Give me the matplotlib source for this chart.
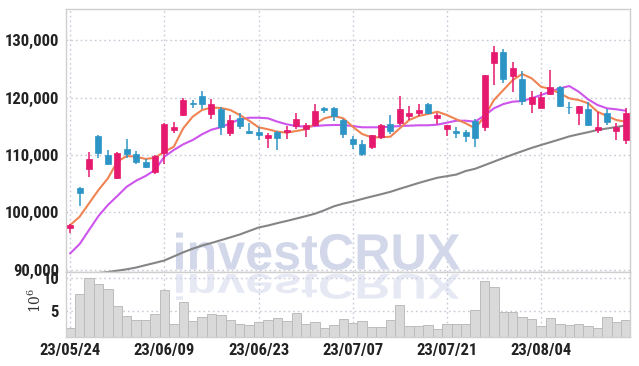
"""Candlestick chart with three moving averages, volume pane and an investCRUX watermark."""

import os

import matplotlib

matplotlib.use("Agg")
import matplotlib.pyplot as plt  # noqa: E402
import numpy as np  # noqa: E402
from matplotlib import font_manager  # noqa: E402
from matplotlib.font_manager import FontProperties  # noqa: E402
from matplotlib.patches import PathPatch, Rectangle  # noqa: E402
from matplotlib.textpath import TextPath  # noqa: E402
from matplotlib.transforms import Affine2D  # noqa: E402

UP, DOWN = "#e5196e", "#2d95c6"
ORANGE, PURPLE, GRAY = "#ef8452", "#cd55ec", "#858585"
GRID = "#c9c9d9"

# daily OHLC (KRW), 60 trading days from 23/05/24
opens = [97300, 104300, 107500, 113300, 110000, 105900, 111000, 110200, 108800, 107000,
         110300, 114400, 116900, 119100, 120300, 117200, 118000, 113900, 116400, 114200,
         114000, 113000, 114000, 114000, 115100, 114600, 115200, 118100, 118200, 116100,
         112800, 111900, 111400, 113200, 115400, 115500, 116800, 117300, 118800, 116500,
         114600, 114200, 114000, 116000, 114900, 126100, 128000, 123800, 123300, 118900,
         118200, 120600, 121900, 118400, 117400, 118000, 114400, 117300, 114200, 112600]
highs = [97900, 104400, 110500, 113500, 110900, 110500, 112700, 110600, 109200, 109900,
         115500, 115800, 120000, 119600, 121100, 119700, 118400, 117000, 117400, 115600,
         114900, 113800, 114100, 115000, 117400, 115500, 118900, 118400, 118300, 116200,
         113300, 112600, 113400, 115400, 116900, 120200, 118600, 118900, 119000, 117400,
         115200, 114800, 114300, 116200, 124000, 129000, 128400, 126300, 124700, 121200,
         120900, 124900, 122100, 119200, 118600, 119200, 117500, 118000, 115500, 118100]
lows = [96300, 101000, 106100, 109400, 108300, 105800, 109400, 108500, 107800, 106600,
        108500, 113900, 116800, 118100, 118000, 116300, 113500, 113300, 114600, 113700,
        112600, 111200, 110900, 112800, 114600, 113200, 115000, 117300, 116000, 113000,
        111100, 109800, 111100, 112700, 113700, 115200, 116100, 116800, 117200, 115400,
        113300, 113000, 112300, 111300, 114200, 122200, 122600, 120900, 118700, 117300,
        118200, 120400, 118300, 117100, 115200, 115100, 113900, 115200, 112600, 111900]
closes = [97800, 103400, 109200, 110300, 108400, 110400, 110200, 108700, 107950, 109800,
          115400, 114800, 119600, 118900, 118900, 118900, 114800, 116100, 115100, 113900,
          113500, 113400, 113000, 114400, 116300, 115200, 117700, 117800, 116800, 113700,
          111900, 110200, 113400, 115300, 114100, 118000, 117400, 117800, 117400, 117000,
          115200, 113900, 113300, 113000, 123900, 128000, 123300, 125200, 119400, 120100,
          120100, 121800, 118600, 118300, 118500, 115300, 114800, 115800, 114900, 117300]

# moving averages
ma_short = [97770, 99220, 101560, 103880, 105920, 108820, 109810, 109690, 109290, 109510,
            110560, 111430, 114640, 116670, 117840, 118260, 118190, 117840, 116960, 115970,
            114820, 114470, 114050, 113880, 114170, 114470, 115400, 116390, 116790, 116390,
            114920, 113650, 113070, 113070, 113180, 114640, 116090, 116790, 117140, 117540,
            116960, 116210, 115520, 114640, 116700, 119580, 121320, 123070, 124120, 123370,
            121900, 121500, 120750, 119880, 119580, 119010, 117540, 116790, 116090, 115800]
ma_mid = [92830, 94450, 96900, 99340, 101260, 102830, 104450, 105500, 106320, 107370,
          109690, 110860, 111850, 112600, 113600, 114400, 114820, 115520, 116210, 116490,
          116490, 116390, 115800, 115340, 115040, 114920, 115040, 115170, 115220, 115220,
          115040, 114820, 114820, 114820, 114920, 115040, 115100, 115170, 115170, 115280,
          115620, 115970, 115970, 115800, 116880, 118130, 118880, 119290, 119410, 119880,
          120450, 121030, 121620, 122020, 121030, 119700, 118710, 118130, 117960, 117710]
ma_long = [88900, 88990, 89220, 89400, 89570, 89800, 90040, 90350, 90760, 91160,
           91580, 92290, 93000, 93630, 94180, 94630, 95120, 95610, 96110, 96720,
           97330, 97680, 98100, 98480, 98890, 99300, 99740, 100350, 101030, 101500,
           101870, 102310, 102730, 103130, 103560, 104090, 104590, 105100, 105570, 106020,
           106290, 106570, 107190, 107580, 108200, 108830, 109460, 110070, 110650, 111220,
           111730, 112220, 112720, 113230, 113610, 113960, 114350, 114610, 114870, 115150]

# volume in millions of shares
volume = [2.45, 7.55, 10.1, 9.08, 8.32, 5.87, 4.33, 3.72, 3.72, 4.64,
          8.16, 3.11, 6.48, 3.57, 4.13, 4.64, 4.49, 3.72, 3.11, 2.91,
          3.41, 3.72, 3.98, 3.57, 4.74, 3.06, 3.41, 2.45, 2.91, 3.83,
          3.22, 3.52, 2.60, 2.60, 3.67, 6.02, 2.76, 2.76, 2.91, 2.30,
          3.06, 3.11, 3.11, 5.25, 9.59, 8.73, 4.90, 4.90, 4.13, 3.83,
          2.80, 3.98, 3.11, 2.91, 3.11, 2.80, 2.50, 4.13, 3.41, 3.67]

tick_pos = [0, 10, 20, 30, 40, 50]
tick_labels = ["23/05/24", "23/06/09", "23/06/23", "23/07/07", "23/07/21", "23/08/04"]
price_ticks = [90000, 100000, 110000, 120000, 130000]
vol_ticks = [5, 10]


def _narrow_font():
    """Pick an installed narrow/condensed face for the tick labels."""
    wanted = ["LiberationSansNarrow-Bold", "RobotoCondensed-Bold", "Roboto-CondensedBold",
              "DejaVuSansCondensed-Bold", "OpenSans-CondBold", "NotoSans-CondensedBold",
              "LiberationSansNarrow-Regular", "RobotoCondensed-Regular",
              "DejaVuSansCondensed", "NotoSans-Condensed"]
    files = {os.path.splitext(os.path.basename(f.fname))[0]: f.fname
             for f in font_manager.fontManager.ttflist}
    for w in wanted:
        if w in files:
            return FontProperties(fname=files[w]), 12
    for f in font_manager.fontManager.ttflist:
        base = os.path.basename(f.fname).lower()
        if ("condensed" in base or "narrow" in base) and "bold" in base:
            return FontProperties(fname=f.fname), 12
    return FontProperties(family="DejaVu Sans", weight="bold", stretch="condensed"), 9


LABEL_PROP, LABEL_SIZE = _narrow_font()
plt.rcParams["mathtext.fontset"] = "dejavuserif"

W, H = 639, 366
fig = plt.figure(figsize=(W / 100, H / 100), dpi=100)
fig.patch.set_facecolor("white")
L, R = 66, 630
ax = fig.add_axes([L / W, (H - 271.7) / H, (R - L) / W, (271.7 - 9.3) / H])
axv = fig.add_axes([L / W, (H - 337.3) / H, (R - L) / W, (337.3 - 272.0) / H], sharex=ax)

n = len(closes)
pos = np.arange(n)


def _style(a):
    a.set_facecolor("white")
    for s in a.spines.values():
        s.set_color("#cfcfcf")
        s.set_linewidth(1.0)
    a.grid(True, color=GRID, ls=(0, (1.2, 2.2)), lw=1.0)
    a.set_axisbelow(True)
    a.tick_params(length=0, colors="#222222")
    for t in a.get_xticklabels() + a.get_yticklabels():
        t.set_fontproperties(LABEL_PROP)
        t.set_fontsize(LABEL_SIZE)


# candles
for xi, o, h, lo, c in zip(pos, opens, highs, lows, closes):
    col = UP if c >= o else DOWN
    ax.vlines(xi, lo, h, color=col, lw=1.1, zorder=3)
    ax.add_patch(Rectangle((xi - 0.32, min(o, c)), 0.64, max(abs(c - o), 120),
                           facecolor=col, edgecolor=col, lw=0.5, zorder=4))

ax.plot(pos, ma_long, color=GRAY, lw=1.5, zorder=2)
ax.plot(pos, ma_mid, color=PURPLE, lw=1.5, zorder=2)
ax.plot(pos, ma_short, color=ORANGE, lw=1.5, zorder=2)

ax.set_xlim(-0.45, n - 0.55)
ax.set_ylim(89620, 135410)
ax.set_yticks(price_ticks)
ax.set_yticklabels([f"{v:,}" for v in price_ticks])
ax.set_xticks(tick_pos)
ax.tick_params(axis="x", labelbottom=False)
_style(ax)
ax.tick_params(axis="y", pad=5)

# volume
axv.bar(pos, volume, width=1.0, color="#d9d9d9", edgecolor="#bcbcbc", lw=0.7, zorder=2)
axv.set_ylim(1.07, 10.95)
axv.set_yticks(vol_ticks)
axv.set_yticklabels([str(v) for v in vol_ticks])
axv.set_xticks(tick_pos)
axv.set_xticklabels(tick_labels)
_style(axv)
axv.tick_params(axis="x", pad=4)
axv.tick_params(axis="y", pad=5)
axv.set_ylabel(r"$10^6$", fontsize=10, color="#333333")
axv.yaxis.set_label_coords(-22 / (R - L), 0.57)

# watermark + reflection
tp = TextPath((0, 0), "investCRUX", size=51,
              prop=FontProperties(family="Liberation Sans", weight="bold"))
ext = tp.get_extents()
sx = 284 / ext.width
wm = PathPatch(tp, facecolor="#d2d8ea", edgecolor="none", zorder=1,
               transform=Affine2D().translate(-ext.x0, 0).scale(sx, 1).translate(176, H - 269.5))
ax.add_patch(wm)
refl = PathPatch(tp, facecolor="#c9d0e8", edgecolor="none", alpha=0.45, zorder=3,
                 transform=Affine2D().translate(-ext.x0, 0).scale(sx, -0.7).translate(176, H - 274))
axv.add_patch(refl)

fig.savefig("out.png", dpi=100, facecolor="white")
